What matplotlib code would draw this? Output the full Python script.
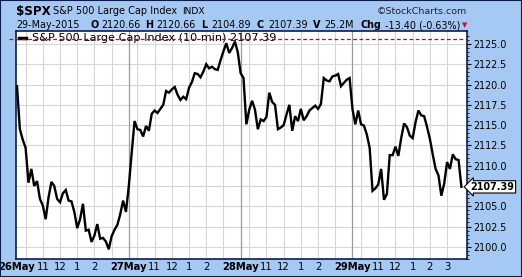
import matplotlib
matplotlib.use("Agg")
import matplotlib.pyplot as plt
from matplotlib.patches import Rectangle

# 10-minute closes, 39 bars per session (9:30 .. 15:50)
may26 = [2119.8, 2114.5, 2113.2, 2112.2, 2107.9, 2109.6, 2107.5, 2108.1, 2105.9, 2105.1,
         2103.4, 2106.1, 2108.0, 2107.5, 2105.9, 2105.5, 2106.6, 2107.0, 2105.7, 2105.6,
         2104.3, 2102.3, 2103.4, 2105.3, 2102.0, 2102.1, 2100.6, 2101.4, 2102.8, 2101.0,
         2101.1, 2100.65, 2099.7, 2101.3, 2102.1, 2102.7, 2104.0, 2105.7, 2104.3]
may27 = [2107.5, 2111.6, 2115.5, 2114.5, 2114.4, 2113.6, 2114.9, 2114.3, 2116.4, 2116.8,
         2116.5, 2117.0, 2117.5, 2119.2, 2119.0, 2119.4, 2119.7, 2118.75, 2118.1, 2118.5,
         2118.2, 2119.6, 2120.3, 2121.4, 2121.3, 2120.9, 2121.6, 2122.5, 2122.0, 2122.2,
         2121.9, 2121.8, 2123.0, 2124.1, 2125.1, 2123.9, 2124.5, 2125.3, 2124.0]
may28 = [2121.4, 2120.8, 2115.1, 2116.9, 2118.0, 2116.9, 2114.5, 2115.7, 2115.5, 2116.0,
         2119.0, 2117.85, 2117.5, 2114.5, 2114.7, 2115.0, 2116.3, 2117.5, 2114.3, 2116.1,
         2115.5, 2117.0, 2115.6, 2116.1, 2116.8, 2117.1, 2117.4, 2117.0, 2117.6, 2120.8,
         2120.5, 2120.4, 2121.0, 2121.1, 2121.3, 2119.8, 2120.2, 2120.6, 2120.8]
may29 = [2117.0, 2115.1, 2116.8, 2115.1, 2114.95, 2113.85, 2112.2, 2106.9, 2107.2, 2107.7,
         2109.6, 2105.8, 2106.5, 2111.3, 2111.3, 2112.35, 2111.2, 2113.4, 2115.2, 2114.75,
         2113.7, 2113.4, 2115.35, 2116.8, 2116.2, 2116.1, 2114.8, 2113.3, 2111.4, 2109.6,
         2108.8, 2106.3, 2107.8, 2110.45, 2109.6, 2111.4, 2110.8, 2110.7, 2107.39]

days = ["26May", "27May", "28May", "29May"]
hour_labels = ["11", "12", "1", "2", "3"]
hour_offsets = [9, 15, 21, 27, 33]      # bars after the 9:30 open
grid_offsets = [3, 9, 15, 21, 27, 33]
y_ticks = [2100.0, 2102.5, 2105.0, 2107.5, 2110.0, 2112.5, 2115.0, 2117.5, 2120.0, 2122.5, 2125.0]
last_close = 2107.39
high_line = 2125.65

BG = "#a6c9f3"
NAVY = "#0b1d4a"
W, H = 522, 277

closes = may26 + may27 + may28 + may29
per_day = len(may26)
x = list(range(len(closes)))

fig = plt.figure(figsize=(W / 100, H / 100), dpi=100, facecolor=BG)
ax = fig.add_axes([16 / W, 1 - 259 / H, (467 - 16) / W, (259 - 31) / H])
ax.set_facecolor("white")

# grid
for yv in y_ticks:
    ax.axhline(yv, color="#d6d6d6", lw=0.8, zorder=1)
for d in range(len(days)):
    for off in grid_offsets:
        ax.axvline(d * per_day + off, color="#d6d6d6", lw=0.8, zorder=1)
    if d > 0:
        ax.axvline(d * per_day, color="#9a9a9a", lw=0.9, zorder=1)

ax.plot(x, closes, color="black", lw=1.7, zorder=3, solid_joinstyle="miter")

# red dashed high line, running slightly past the left edge
ax.plot([-0.015, 1.0], [high_line, high_line], color="#e00000", lw=0.9,
        ls=(0, (3, 2)), transform=ax.get_yaxis_transform(), clip_on=False, zorder=5)

# legend
ax.plot([3 / 451, 10 / 451], [0.968, 0.968], color="black", lw=2.5,
        transform=ax.transAxes, zorder=4)
ax.text(16 / 451, 0.968, "S&P 500 Large Cap Index (10 min) %.2f" % last_close,
        transform=ax.transAxes, fontsize=8.1, va="center", ha="left", zorder=4)

ax.set_xlim(-0.35, 156.95)
ax.set_ylim(2098.65, 2126.6)

# y axis on the right (label next to the last price is hidden behind its box)
ax.yaxis.tick_right()
ax.set_yticks(y_ticks)
ax.set_yticklabels(["" if abs(v - last_close) < 1.0 else "%.1f" % v for v in y_ticks],
                   fontsize=6.9)
ax.set_yticks([v / 2 for v in range(4197, 4253)], minor=True)
ax.tick_params(axis="y", which="major", length=3, width=0.8, pad=1.5, direction="out")
ax.tick_params(axis="y", which="minor", length=1.2, width=0.6, direction="out")

# x axis labels
xt, xl = [], []
for d, name in enumerate(days):
    xt.append(d * per_day)
    xl.append(name)
    n = 5 if d == len(days) - 1 else 4
    for off, lab in zip(hour_offsets[:n], hour_labels[:n]):
        xt.append(d * per_day + off)
        xl.append(lab)
ax.set_xticks(xt)
ax.set_xticklabels(xl, fontsize=7.2)
for t in ax.get_xticklabels():
    if "May" in t.get_text():
        t.set_fontweight("bold")
ax.tick_params(axis="x", length=0, pad=2.5)

for s in ax.spines.values():
    s.set_color(NAVY)
    s.set_linewidth(1.2)

ax.text(1.008, last_close, "%.2f" % last_close, transform=ax.get_yaxis_transform(),
        fontsize=6.9, fontweight="bold", va="center", ha="left", zorder=6,
        bbox=dict(boxstyle="larrow,pad=0.12", fc="white", ec="black", lw=0.8))

# header
def fx(px):
    return px / W


def fy(py):
    return 1 - py / H


fig.text(fx(16), fy(11.5), "$SPX", fontsize=8.6, fontweight="bold", va="center")
fig.text(fx(53), fy(11.5), "S&P 500 Large Cap Index", fontsize=7, va="center")
fig.text(fx(182), fy(11.5), "INDX", fontsize=6.6, va="center")
fig.text(fx(467), fy(11.5), "\u00a9StockCharts.com", fontsize=6.8, va="center", ha="right",
         color="#222222")

row2 = [(16, "29-May-2015", "normal"), (90.5, "O", "bold"), (101.5, "2120.66", "normal"),
        (145, "H", "bold"), (156, "2120.66", "normal"), (201.5, "L", "bold"),
        (211.5, "2104.89", "normal"), (256.5, "C", "bold"), (268, "2107.39", "normal"),
        (313, "V", "bold"), (324, "25.2M", "normal"), (360.5, "Chg", "bold"),
        (385, "-13.40 (-0.63%)", "normal")]
for px, s, w in row2:
    fig.text(fx(px), fy(25), s, fontsize=6.9, fontweight=w, va="center")
fig.text(fx(462), fy(25.5), "\u25bc", fontsize=5, color="#c8102e", va="center")

fig.patches.append(Rectangle((0, 0), 1, 1, transform=fig.transFigure, fill=False,
                             ec=NAVY, lw=1.5))

fig.savefig("out.png", dpi=100, facecolor=BG)
